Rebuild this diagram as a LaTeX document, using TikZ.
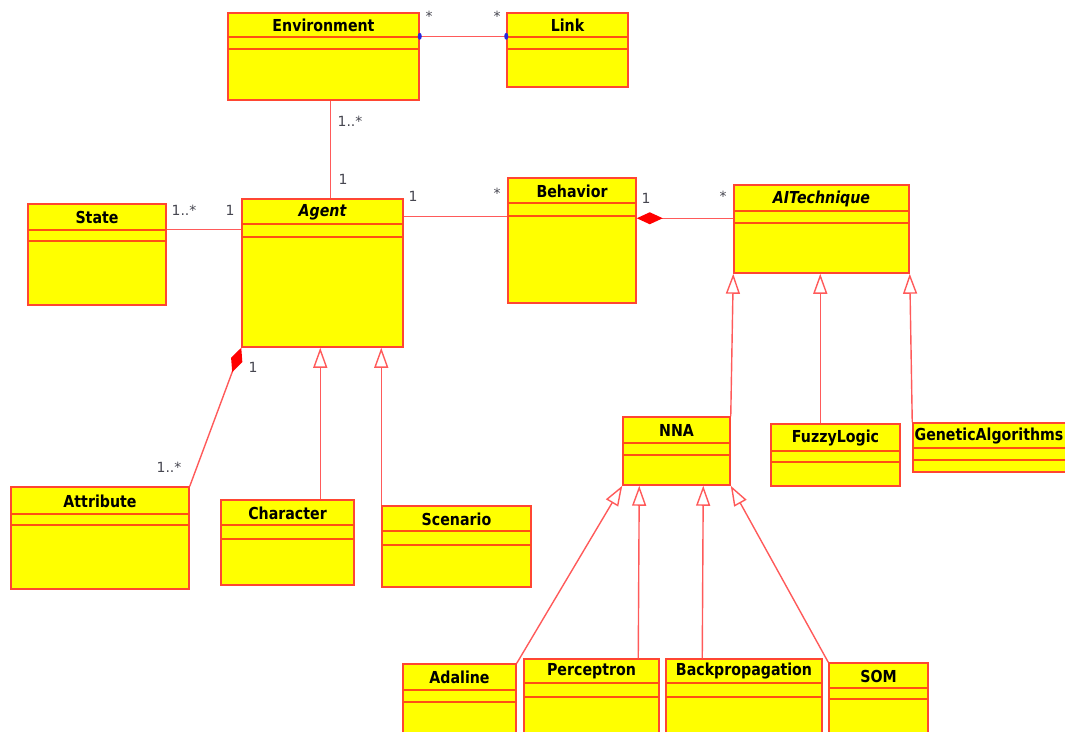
\documentclass[tikz,border=0pt]{standalone}
\usepackage{fontspec}
\usetikzlibrary{arrows.meta,fit,shapes.geometric}
\newfontfamily\titlefont[FakeStretch=0.86]{DejaVu Sans}
\newfontfamily\multfont{DejaVu Sans}
\definecolor{classfill}{RGB}{255,255,0}
\definecolor{classline}{RGB}{255,70,50}
\definecolor{sepline}{RGB}{255,80,20}
\definecolor{linkred}{RGB}{255,90,90}
\definecolor{multgray}{RGB}{70,70,80}
\definecolor{navblue}{RGB}{40,40,220}

\tikzset{
  classbox/.style={draw=classline, fill=classfill, line width=1.5pt, inner sep=0pt},
  classsep/.style={draw=sepline, line width=1.4pt},
  classtitle/.style={font=\titlefont\bfseries\fontsize{16.5}{16.5}\selectfont, text=black, inner sep=0pt},
  abstract/.style={font=\titlefont\bfseries\itshape\fontsize{16.5}{16.5}\selectfont},
  mult/.style={font=\multfont\fontsize{14}{14}\selectfont, text=multgray, inner sep=0pt},
  assoc/.style={draw=linkred, line width=1.4pt},
  gen/.style={assoc, -{Triangle[open, length=20pt, width=14pt]}},
  comp/.style={assoc, {Diamond[length=26pt, width=12pt, fill=red, color=red]}-},
  navdot/.style={fill=navblue, ellipse, inner sep=0pt, minimum width=4pt, minimum height=7pt},
}

% class box: [title style]{name}{x1}{y1}{x2}{y2}{sep1}{sep2}{title}
\newcommand\umlclass[9][]{%
  \path (#3,#4) coordinate (#2-a) (#5,#6) coordinate (#2-b);
  \node[classbox, fit=(#2-a)(#2-b)] (#2) {};
  \draw[classsep] (#3,#7) -- (#5,#7) (#3,#8) -- (#5,#8);
  \node[classtitle,#1] (#2-title) at ({(#3+#5)/2},{(#4+#7)/2+0.5}) {#9};
}

\begin{document}
\begin{tikzpicture}[x=1pt,y=-1pt]
\useasboundingbox (0,0) rectangle (1065,731);

% classes
\umlclass{env}{228}{13}{419}{100}{37}{49}{Environment}
\umlclass{link}{507}{13}{628}{87}{37}{49}{Link}
\umlclass{state}{28}{204}{166}{305}{230}{241}{State}
\umlclass[abstract]{agent}{242}{199}{403}{347}{224}{237}{Agent}
\umlclass{behavior}{508}{178}{636}{303}{203}{216}{Behavior}
\umlclass[abstract]{aitech}{734}{185}{909}{273}{211}{223}{AITechnique}
\umlclass{attribute}{11}{487}{189}{589}{514}{525}{Attribute}
\umlclass{character}{221}{500}{354}{585}{525}{539}{Character}
\umlclass{scenario}{382}{506}{531}{587}{531}{545}{Scenario}
\umlclass{nna}{623}{417}{730}{485}{443}{455}{NNA}
\umlclass{fuzzy}{771}{424}{900}{486}{451}{462}{FuzzyLogic}
\umlclass[xshift=-10pt]{genetic}{913}{423}{1085}{472}{448}{460}{GeneticAlgorithms}
\umlclass{adaline}{403}{664}{516}{745}{690}{702}{Adaline}
\umlclass{perceptron}{524}{659}{659}{745}{683}{697}{Perceptron}
\umlclass{backprop}{666}{659}{822}{745}{683}{697}{Backpropagation}
\umlclass{som}{829}{663}{928}{745}{688}{699}{SOM}

% Environment -- Link
\draw[assoc] ([yshift=-24pt]env.north east) -- ([yshift=-24pt]link.north west);
\node[navdot] (envdot) at ([yshift=-24pt]env.north east) {};
\node[navdot] (linkdot) at ([yshift=-24pt]link.north west) {};
\node[mult] (m-env-link) at (429,16) {*};
\node[mult] (m-link-env) at (497,16) {*};

% Environment -- Agent
\draw[assoc] ([xshift=103pt]env.south west) -- ([xshift=89pt]agent.north west);
\node[mult] (m-env-agent) at (350,121) {1..*};
\node[mult] (m-agent-env) at (343,179) {1};

% State -- Agent
\draw[assoc] ([yshift=-26pt]state.north east) -- ([yshift=-31pt]agent.north west);
\node[mult] (m-state) at (184,210) {1..*};
\node[mult] (m-agent-state) at (230,210) {1};

% Agent -- Behavior
\draw[assoc] ([yshift=-18pt]agent.north east) -- ([yshift=-39pt]behavior.north west);
\node[mult] (m-agent-beh) at (413,196) {1};
\node[mult] (m-beh-agent) at (497,193) {*};

% Behavior <>-- AITechnique
\draw[comp] ([yshift=-41pt]behavior.north east) -- ([yshift=-34pt]aitech.north west);
\node[mult] (m-beh-ai) at (646,198) {1};
\node[mult] (m-ai-beh) at (723,196) {*};

% Agent <>-- Attribute
\draw[comp] (agent.south west) -- (attribute.north east);
\node[mult] (m-agent-attr) at (253,367) {1};
\node[mult] (m-attr-agent) at (169,467) {1..*};

% generalizations of Agent
\draw[gen] ([xshift=100pt]character.north west) -- ([xshift=79pt]agent.south west);
\draw[gen] (scenario.north west) -- ([xshift=140pt]agent.south west);

% generalizations of AITechnique
\draw[gen] (nna.north east) -- (aitech.south west);
\draw[gen] ([xshift=50pt]fuzzy.north west) -- ([xshift=87pt]aitech.south west);
\draw[gen] (genetic.north west) -- (aitech.south east);

% generalizations of NNA
\draw[gen] (adaline.north east) -- (nna.south west);
\draw[gen] ([xshift=115pt]perceptron.north west) -- ([xshift=17pt]nna.south west);
\draw[gen] ([xshift=37pt]backprop.north west) -- ([xshift=81pt]nna.south west);
\draw[gen] (som.north west) -- (nna.south east);
\end{tikzpicture}
\end{document}
